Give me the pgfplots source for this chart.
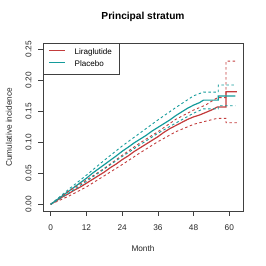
\documentclass[border=0pt]{standalone}
\usepackage{pgfplots}
\pgfplotsset{compat=1.18}
\usepackage{fontspec}
\setmainfont{Liberation Sans}
\definecolor{lira}{RGB}{195,60,60}
\definecolor{plac}{RGB}{20,155,155}
\begin{document}
\begin{tikzpicture}
\useasboundingbox (0,0) rectangle (266bp,266bp);
\begin{axis}[
  at={(43bp,54.7bp)}, anchor=south west,
  scale only axis, width=200bp, height=168bp,
  xmin=-2.59, xmax=64.6, ymin=-0.0113, ymax=0.2597,
  xtick={0,12,24,36,48,60},
  ytick={0,0.05,0.10,0.15,0.20,0.25},
  yticklabel style={/pgf/number format/fixed, /pgf/number format/fixed zerofill, /pgf/number format/precision=2},
  /pgf/number format/assume math mode=true,
  tick align=outside, major tick length=4.5bp,
  xtick pos=bottom, ytick pos=left,
  axis line style={draw=black!75, line width=0.6bp},
  every tick/.style={black!75, line width=0.6bp},
  tick label style={font=\fontsize{8.3}{10}\selectfont, text=black!85},
  xticklabel style={anchor=center, yshift=-12bp},
  yticklabel style={anchor=center, xshift=-10bp, rotate=90},
  xlabel={Month},
  xlabel style={at={(axis description cs:0.5,-0.2244)}, anchor=center, font=\fontsize{8.3}{10}\selectfont, text=black!85},
  ylabel={Cumulative incidence},
  ylabel style={at={(axis description cs:-0.17,0.5)}, anchor=center, rotate=0, font=\fontsize{8.3}{10}\selectfont, text=black!85},
  title={\bfseries Principal stratum},
  title style={at={(axis description cs:0.5,1.1226)}, anchor=center, font=\fontsize{10.2}{12}\selectfont},
  legend style={at={(axis description cs:0,1)}, anchor=north west, draw=black!75, line width=0.6bp,
    font=\fontsize{8.1}{10}\selectfont, inner xsep=5.5bp, inner ysep=3.5bp, row sep=0.7bp,
    cells={anchor=west, inner xsep=0bp, inner ysep=0.5bp},
    /tikz/every odd column/.append style={column sep=6.6bp}},
  legend cell align=left,
  legend image code/.code={\draw[#1, line width=1.3bp] (0bp,2.5bp) -- (16bp,2.5bp);},
]
% Liraglutide
\addplot[color=lira, line width=1.2bp] coordinates {
(0,0) (2,0.006) (4,0.012) (6,0.017) (8,0.023) (10,0.028) (12,0.034) (14,0.040) (16,0.046)
(18,0.052) (20,0.059) (22,0.065) (24,0.072) (26,0.078) (28,0.085) (30,0.091) (32,0.097)
(34,0.103) (36,0.109) (38,0.116) (40,0.122) (42,0.127) (44,0.132) (46,0.137) (48,0.141)
(50,0.144) (52,0.148) (54,0.152) (56,0.157) (58.9,0.157) (58.9,0.1816) (62.5,0.1816)};
\addlegendentry{Liraglutide}
% Placebo
\addplot[color=plac, line width=1.2bp] coordinates {
(0,0) (2,0.007) (4,0.014) (6,0.021) (8,0.028) (10,0.035) (12,0.042) (14,0.050) (16,0.057)
(18,0.064) (20,0.071) (22,0.078) (24,0.0855) (26,0.092) (28,0.099) (30,0.105) (32,0.111)
(34,0.118) (36,0.124) (38,0.130) (40,0.136) (42,0.143) (44,0.149) (46,0.155) (48,0.160)
(50,0.164) (51.3,0.168) (56.3,0.168) (56.3,0.1747) (62,0.1747)};
\addlegendentry{Placebo}
% Liraglutide CI
\addplot[color=lira, line width=0.9bp, dash pattern=on 2.5bp off 2.5bp, forget plot] coordinates {
(0,0) (6,0.021) (12,0.039) (18,0.058) (24,0.079) (30,0.099) (36,0.117) (42,0.137) (48,0.152)
(52,0.160) (56,0.172) (58.9,0.172) (58.9,0.231) (62.5,0.231)};
\addplot[color=lira, line width=0.9bp, dash pattern=on 2.5bp off 2.5bp, forget plot] coordinates {
(0,0) (6,0.013) (12,0.028) (18,0.046) (24,0.064) (30,0.083) (36,0.101) (42,0.117) (48,0.129)
(52,0.134) (56,0.1387) (58.9,0.1387) (58.9,0.1316) (62.5,0.1316)};
% Placebo CI
\addplot[color=plac, line width=0.9bp, dash pattern=on 2.5bp off 2.5bp, forget plot] coordinates {
(0,0) (6,0.024) (12,0.047) (18,0.071) (24,0.094) (30,0.115) (36,0.136) (42,0.156) (48,0.175)
(51.3,0.181) (56.3,0.181) (56.3,0.1924) (62,0.1924)};
\addplot[color=plac, line width=0.9bp, dash pattern=on 2.5bp off 2.5bp, forget plot] coordinates {
(0,0) (6,0.018) (12,0.037) (18,0.057) (24,0.077) (30,0.096) (36,0.1145) (42,0.131) (48,0.147)
(51.3,0.154) (56.3,0.154) (56.3,0.159) (62,0.159)};
\end{axis}
\end{tikzpicture}
\end{document}
